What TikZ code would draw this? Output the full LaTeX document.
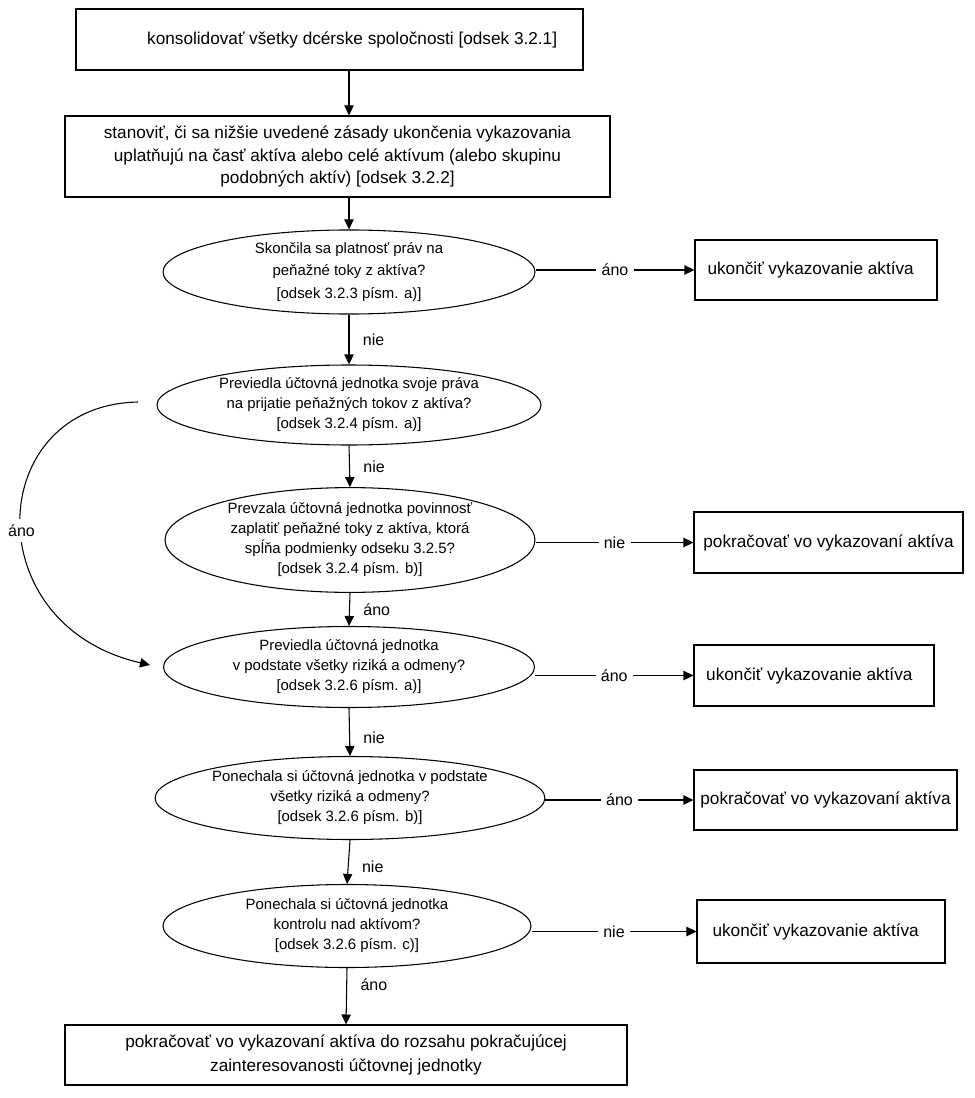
\documentclass[tikz,border=0pt]{standalone}
\usepackage{fontspec}
\setmainfont{Liberation Sans}
\usetikzlibrary{shapes.geometric,arrows.meta}
\begin{document}
\begin{tikzpicture}[x=0.75pt,y=-0.75pt,
  box/.style={draw,line width=0.8pt,inner sep=2pt,align=center,font=\fontsize{12.9}{17}\selectfont},
  dec/.style={draw,ellipse,line width=0.8pt,inner sep=0pt,align=center,font=\fontsize{11.2}{15}\selectfont},
  arr/.style={line width=0.8pt,-{Triangle[length=7.5pt,width=7pt]}},
  lbl/.style={fill=white,inner sep=4pt,font=\fontsize{12}{13}\selectfont},
  vlbl/.style={right,xshift=8pt,inner sep=2pt,font=\fontsize{12}{13}\selectfont}]
\useasboundingbox (0,0) rectangle (974,1098);
\fill[white] (0,0) rectangle (974,1098);

\node[box,minimum width=507*0.75pt,minimum height=61*0.75pt] (b1) at (329.5,39.5)
  {\hspace*{34pt}konsolidovať všetky dcérske spoločnosti [odsek 3.2.1]};
\node[box,minimum width=545*0.75pt,minimum height=81*0.75pt] (b2) at (337.5,156.5)
  {stanoviť, či sa nižšie uvedené zásady ukončenia vykazovania\\uplatňujú na časť aktíva alebo celé aktívum (alebo skupinu\\podobných aktív) {[}odsek 3.2.2]};

\node[dec,minimum width=372*0.75pt,minimum height=70*0.75pt,font=\fontsize{11.2}{17}\selectfont] (e1) at (349,272)
  {Skončila sa platnosť práv na\\peňažné toky z aktíva?\\{[}odsek 3.2.3 písm. a)]};
\node[dec,minimum width=384*0.75pt,minimum height=80*0.75pt] (e2) at (349,405)
  {Previedla účtovná jednotka svoje práva\\na prijatie peňažných tokov z aktíva?\\{[}odsek 3.2.4 písm. a)]};
\node[dec,minimum width=370*0.75pt,minimum height=104*0.75pt] (e3) at (350,540)
  {Prevzala účtovná jednotka povinnosť\\zaplatiť peňažné toky z aktíva, ktorá\\spĺňa podmienky odseku 3.2.5?\\{[}odsek 3.2.4 písm. b)]};
\node[dec,minimum width=371*0.75pt,minimum height=81*0.75pt] (e4) at (349,667)
  {Previedla účtovná jednotka\\v podstate všetky riziká a odmeny?\\{[}odsek 3.2.6 písm. a)]};
\node[dec,minimum width=374*0.75pt,minimum height=83*0.75pt] (e5) at (350,798)
  {Ponechala si účtovná jednotka v podstate\\všetky riziká a odmeny?\\{[}odsek 3.2.6 písm. b)]};
\node[dec,minimum width=368*0.75pt,minimum height=83*0.75pt] (e6) at (347,926)
  {Ponechala si účtovná jednotka\\kontrolu nad aktívom?\\{[}odsek 3.2.6 písm. c)]};

\node[box,minimum width=242*0.75pt,minimum height=60*0.75pt] (r1) at (816,270)
  {ukončiť vykazovanie aktíva\hspace*{8pt}};
\node[box,minimum width=269*0.75pt,minimum height=61*0.75pt,inner sep=0pt] (r2) at (828.5,542.5)
  {pokračovať vo vykazovaní aktíva};
\node[box,minimum width=240*0.75pt,minimum height=61*0.75pt] (r3) at (814,675.5)
  {ukončiť vykazovanie aktíva\hspace*{7pt}};
\node[box,minimum width=263*0.75pt,minimum height=60*0.75pt,inner sep=0pt] (r4) at (825.5,800)
  {pokračovať vo vykazovaní aktíva};
\node[box,minimum width=248*0.75pt,minimum height=63*0.75pt] (r5) at (821,931.5)
  {ukončiť vykazovanie aktíva\hspace*{8pt}};
\node[box,minimum width=562*0.75pt,minimum height=60*0.75pt,font=\fontsize{12.9}{18}\selectfont] (b3) at (346,1055)
  {pokračovať vo vykazovaní aktíva do rozsahu pokračujúcej\\zainteresovanosti účtovnej jednotky};

% vertical arrows
\draw[arr] (b1.south -| e1.north) -- (b2.north -| e1.north);
\draw[arr] (b2.south -| e1.north) -- (e1.north);
\draw[arr] (e1.south) -- node[vlbl]{nie} (e2.north);
\draw[arr] (e2.south) -- node[vlbl]{nie} (e3.north);
\draw[arr] (e3.south) -- node[vlbl]{áno} (e4.north);
\draw[arr] (e4.south) -- node[vlbl,pos=0.62]{nie} (e5.north);
\draw[arr] (e5.south) -- node[vlbl,pos=0.6]{nie} (e6.north);
\draw[arr] (e6.south) -- node[vlbl,pos=0.3]{áno} (b3.north);

% horizontal arrows
\draw[arr] (e1.east |- r1.west) -- node[lbl]{áno} (r1.west);
\draw[arr] (e3.east |- r2.west) -- node[lbl]{nie} (r2.west);
\draw[arr] (e4.east |- r3.west) -- node[lbl]{áno} (r3.west);
\draw[arr] (e5.east |- r4.west) -- node[lbl]{áno} (r4.west);
\draw[arr] (e6.east |- r5.west) -- node[lbl]{nie} (r5.west);

% curved arrow
\coordinate (cs) at (138,402);
\coordinate (ce) at (150,665);
\draw[arr] (cs) .. controls (-15,405) and (-25,625) .. node[lbl,pos=0.53]{áno} (ce);
\end{tikzpicture}
\end{document}
